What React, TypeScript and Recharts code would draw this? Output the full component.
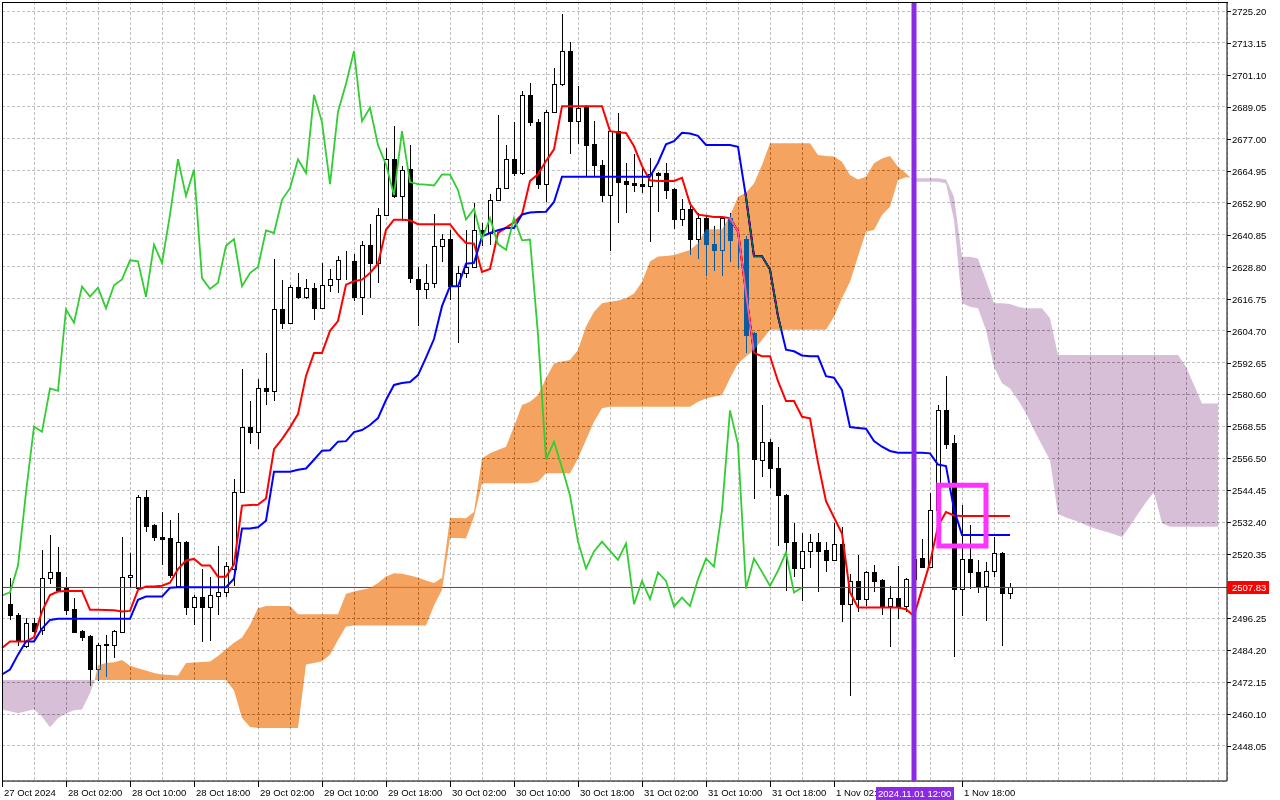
import { Area, Bar, CartesianGrid, ComposedChart, Line, ReferenceArea, ReferenceLine, XAxis, YAxis } from 'recharts'

// XAUUSD H1, bar 0 = first full candle at the left edge (bar -1 is cut by the frame)
const opens = [
  2501.5, 2497.5, 2485.6, 2494.4, 2491.9, 2511.3, 2513.8, 2507.5, 2499.7, 2491.3,
  2489.4, 2476.9, 2486.3, 2486.0, 2491.0, 2511.7, 2507.5, 2541.9, 2531.3, 2526.7,
  2526.3, 2508.5, 2524.9, 2500.4, 2504.2, 2500.4, 2504.5, 2506.0, 2514.8, 2543.7,
  2568.5, 2566.5, 2582.9, 2582.0, 2612.7, 2607.7, 2621.3, 2617.5, 2620.9, 2613.1,
  2621.8, 2624.0, 2631.0, 2630.8, 2617.4, 2637.1, 2630.2, 2648.4, 2669.3, 2655.5,
  2665.6, 2624.2, 2620.4, 2622.7, 2636.7, 2639.2, 2621.4, 2626.4, 2628.7, 2642.5,
  2641.5, 2654.0, 2658.4, 2669.3, 2664.0, 2693.6, 2683.5, 2659.9, 2687.0, 2697.6,
  2710.1, 2683.6, 2689.1, 2674.9, 2667.3, 2655.8, 2679.9, 2661.0, 2660.2, 2659.8,
  2659.4, 2664.0, 2664.0, 2657.9, 2646.6, 2650.5, 2639.2, 2647.1, 2637.3, 2635.2,
  2647.1, 2638.7, 2639.2, 2603.6, 2555.9, 2562.8, 2553.0, 2542.6, 2525.1, 2515.0,
  2521.4, 2525.1, 2521.9, 2518.2, 2524.4, 2501.5, 2510.3, 2503.4, 2513.5, 2510.6,
  2500.7, 2504.0, 2500.8, 2510.9, 2518.9, 2515.7, 2536.9, 2574.6, 2562.2, 2507.4,
  2518.7, 2513.8, 2508.4, 2514.2, 2521.0, 2505.9,
]
const highs = [
  2511.3, 2498.2, 2496.5, 2496.3, 2521.9, 2527.6, 2523.2, 2511.9, 2503.8, 2491.8,
  2489.9, 2486.8, 2490.0, 2491.8, 2527.0, 2520.7, 2542.6, 2544.5, 2531.9, 2536.3,
  2533.2, 2535.8, 2525.5, 2505.0, 2514.8, 2511.7, 2523.6, 2517.3, 2548.7, 2590.1,
  2578.1, 2586.6, 2596.2, 2631.8, 2623.7, 2621.8, 2626.5, 2624.3, 2622.8, 2630.1,
  2627.8, 2633.0, 2634.6, 2633.6, 2638.6, 2645.0, 2650.9, 2673.5, 2681.9, 2666.6,
  2674.7, 2628.7, 2629.8, 2648.8, 2641.0, 2642.7, 2628.9, 2642.7, 2652.8, 2645.3,
  2656.2, 2686.0, 2674.7, 2683.5, 2695.2, 2698.1, 2684.3, 2688.0, 2703.7, 2724.2,
  2713.5, 2697.1, 2689.6, 2683.9, 2669.2, 2680.4, 2686.8, 2667.7, 2671.1, 2666.1,
  2669.9, 2664.5, 2667.7, 2658.6, 2654.4, 2653.0, 2649.2, 2648.4, 2644.2, 2647.6,
  2649.0, 2639.6, 2640.5, 2604.0, 2576.8, 2563.9, 2560.9, 2543.0, 2532.0, 2528.5,
  2527.9, 2528.5, 2524.8, 2532.0, 2530.8, 2512.9, 2520.0, 2513.9, 2516.2, 2511.0,
  2508.2, 2515.9, 2511.3, 2521.0, 2526.0, 2543.6, 2576.5, 2587.5, 2565.5, 2538.8,
  2531.3, 2518.1, 2517.6, 2527.0, 2521.3, 2509.7,
]
const lows = [
  2495.6, 2485.6, 2485.0, 2490.0, 2490.0, 2509.0, 2506.3, 2497.5, 2490.6, 2487.5,
  2470.6, 2472.5, 2474.0, 2481.3, 2490.6, 2507.5, 2506.9, 2528.8, 2525.4, 2516.3,
  2511.3, 2507.9, 2497.3, 2493.5, 2487.2, 2487.8, 2497.3, 2504.2, 2508.5, 2543.3,
  2561.9, 2560.0, 2576.6, 2578.2, 2605.2, 2607.2, 2616.5, 2616.5, 2608.7, 2612.7,
  2619.3, 2619.0, 2623.9, 2615.8, 2610.7, 2617.0, 2622.7, 2647.8, 2654.7, 2645.9,
  2622.7, 2606.6, 2616.6, 2620.8, 2630.4, 2616.4, 2600.1, 2624.5, 2628.3, 2636.5,
  2636.9, 2653.6, 2658.0, 2662.8, 2663.2, 2682.0, 2657.9, 2653.3, 2686.6, 2697.1,
  2671.1, 2674.9, 2662.9, 2662.9, 2653.3, 2634.7, 2645.4, 2648.9, 2656.9, 2656.7,
  2638.1, 2649.4, 2654.2, 2642.9, 2644.1, 2633.3, 2631.7, 2625.2, 2627.0, 2625.2,
  2630.4, 2628.3, 2596.3, 2541.1, 2549.6, 2545.2, 2523.5, 2506.6, 2511.6, 2502.8,
  2515.3, 2506.2, 2513.7, 2518.0, 2494.9, 2467.0, 2498.4, 2501.0, 2506.0, 2497.5,
  2485.2, 2495.8, 2498.5, 2508.0, 2515.3, 2515.3, 2535.0, 2560.0, 2481.5, 2497.1,
  2507.2, 2505.9, 2495.0, 2511.8, 2485.9, 2503.4,
]
const closes = [
  2497.3, 2487.5, 2494.4, 2491.5, 2511.3, 2513.8, 2506.9, 2499.4, 2491.0, 2489.1,
  2476.9, 2486.0, 2486.5, 2491.3, 2511.7, 2512.5, 2541.9, 2530.9, 2526.7, 2526.1,
  2512.5, 2524.9, 2500.4, 2504.2, 2500.4, 2504.8, 2506.0, 2516.1, 2543.7, 2568.5,
  2566.5, 2582.9, 2582.0, 2612.7, 2607.7, 2621.3, 2617.5, 2620.9, 2613.1, 2621.8,
  2624.0, 2631.2, 2630.8, 2617.4, 2637.1, 2630.2, 2648.4, 2669.3, 2655.5, 2665.3,
  2624.5, 2620.4, 2622.7, 2636.7, 2639.2, 2621.4, 2626.4, 2628.7, 2642.5, 2641.5,
  2654.0, 2658.4, 2669.3, 2664.1, 2693.6, 2683.3, 2659.9, 2687.2, 2697.8, 2710.1,
  2683.6, 2688.7, 2674.6, 2667.3, 2655.8, 2679.9, 2660.7, 2659.9, 2659.7, 2659.4,
  2663.6, 2663.5, 2657.7, 2646.6, 2650.6, 2639.2, 2647.1, 2637.3, 2635.2, 2647.1,
  2638.7, 2639.0, 2603.2, 2556.1, 2562.8, 2553.0, 2542.6, 2525.1, 2515.0, 2521.4,
  2525.1, 2521.6, 2518.2, 2524.4, 2501.5, 2510.3, 2503.4, 2513.5, 2510.3, 2500.7,
  2504.0, 2500.8, 2510.9, 2518.7, 2515.7, 2536.9, 2574.6, 2561.8, 2507.4, 2518.7,
  2513.7, 2508.4, 2514.2, 2521.0, 2505.9, 2507.83,
]

// Tenkan-sen and Kijun-sen, bars -1..125
const tenkan = [
  2485.0, 2487.5, 2487.5, 2487.5, 2489.0, 2498.8, 2505.0, 2506.3, 2506.5, 2506.5,
  2506.5, 2499.4, 2499.4, 2499.3, 2499.2, 2498.8, 2499.0, 2506.9, 2508.2, 2508.2,
  2508.5, 2509.6, 2514.8, 2518.0, 2518.6, 2516.1, 2516.1, 2511.9, 2511.9, 2516.5,
  2538.7, 2538.9, 2539.0, 2541.4, 2560.0, 2563.8, 2568.2, 2573.2, 2587.6, 2596.2,
  2596.2, 2604.6, 2608.3, 2622.0, 2623.3, 2623.9, 2626.4, 2629.9, 2642.7, 2646.5,
  2646.5, 2646.3, 2644.8, 2644.8, 2644.8, 2644.8, 2644.8, 2640.9, 2637.7, 2637.5,
  2626.8, 2627.9, 2641.5, 2643.5, 2645.5, 2648.5, 2661.1, 2663.6, 2668.6, 2673.0,
  2689.3, 2689.3, 2689.3, 2689.3, 2689.3, 2689.3, 2679.9, 2679.5, 2679.2, 2674.2,
  2666.7, 2661.4, 2661.1, 2661.1, 2661.1, 2662.3, 2652.5, 2648.4, 2648.0, 2647.5,
  2647.5, 2647.1, 2642.1, 2618.9, 2596.3, 2595.0, 2595.0, 2585.6, 2578.1, 2578.1,
  2572.2, 2571.6, 2554.9, 2540.4, 2534.2, 2528.2, 2506.0, 2500.3, 2500.3, 2500.3,
  2500.3, 2500.3, 2500.3, 2499.6, 2497.1, 2507.2, 2517.2, 2531.0, 2536.3, 2535.0,
  2534.8, 2534.8, 2534.8, 2534.8, 2534.8, 2534.8, 2534.8,
]
const kijun = [
  2475.0, 2476.9, 2482.5, 2487.5, 2487.5, 2492.3, 2495.6, 2496.0, 2496.0, 2496.0,
  2496.0, 2496.0, 2496.0, 2496.0, 2496.0, 2496.0, 2496.0, 2503.2, 2504.4, 2504.4,
  2504.4, 2507.7, 2507.9, 2507.9, 2507.9, 2507.9, 2507.9, 2507.9, 2507.9, 2511.1,
  2530.1, 2530.1, 2530.5, 2533.0, 2551.5, 2551.5, 2551.5, 2552.2, 2552.7, 2556.0,
  2559.4, 2559.6, 2562.8, 2563.0, 2566.4, 2567.2, 2569.1, 2571.7, 2578.5, 2584.2,
  2584.9, 2585.3, 2587.9, 2594.5, 2601.5, 2613.9, 2621.4, 2621.4, 2629.9, 2630.2,
  2640.2, 2641.5, 2642.5, 2643.4, 2643.4, 2648.5, 2649.2, 2649.4, 2649.5, 2653.2,
  2662.7, 2662.7, 2662.7, 2662.7, 2662.7, 2662.7, 2662.7, 2662.7, 2662.7, 2662.7,
  2662.7, 2662.7, 2668.0, 2674.9, 2676.1, 2679.3, 2679.0, 2678.1, 2674.7, 2674.7,
  2674.7, 2674.7, 2674.0, 2655.0, 2632.7, 2632.7, 2627.7, 2610.1, 2597.5, 2596.9,
  2595.3, 2595.0, 2595.0, 2587.5, 2586.9, 2582.2, 2568.3, 2568.0, 2567.7, 2563.0,
  2560.9, 2559.3, 2558.6, 2558.6, 2558.6, 2558.6, 2558.4, 2554.2, 2553.6, 2537.3,
  2527.6, 2527.6, 2527.6, 2527.6, 2527.6, 2527.6, 2527.6,
]
// Chikou span, bars -1..99
const chikou = [
  2504.8, 2506.0, 2516.1, 2543.7, 2568.5, 2566.5, 2582.9, 2582.0, 2612.7, 2607.7,
  2621.3, 2617.5, 2620.9, 2613.1, 2621.8, 2624.0, 2631.2, 2630.8, 2617.4, 2637.1,
  2630.2, 2648.4, 2669.3, 2655.5, 2665.3, 2624.5, 2620.4, 2622.7, 2636.7, 2639.2,
  2621.4, 2626.4, 2628.7, 2642.5, 2641.5, 2654.0, 2658.4, 2669.3, 2664.1, 2693.6,
  2683.3, 2659.9, 2687.2, 2697.8, 2710.1, 2683.6, 2688.7, 2674.6, 2667.3, 2655.8,
  2679.9, 2660.7, 2659.9, 2659.7, 2659.4, 2663.6, 2663.5, 2657.7, 2646.6, 2650.6,
  2639.2, 2647.1, 2637.3, 2635.2, 2647.1, 2638.7, 2639.0, 2603.2, 2556.1, 2562.8,
  2553.0, 2542.6, 2525.1, 2515.0, 2521.4, 2525.1, 2521.6, 2518.2, 2524.4, 2501.5,
  2510.3, 2503.4, 2513.5, 2510.3, 2500.7, 2504.0, 2500.8, 2510.9, 2518.7, 2515.7,
  2536.9, 2574.6, 2561.8, 2507.4, 2518.7, 2513.7, 2508.4, 2514.2, 2521.0, 2505.9,
  2507.8,
]
// Senkou span A and B, bars -1..151
const senkouA = [
  2461.8, 2461.2, 2460.4, 2461.2, 2461.8, 2459.1, 2455.1, 2458.5, 2460.4, 2461.5,
  2461.8, 2467.9, 2478.5, 2479.3, 2479.6, 2480.5, 2478.3, 2477.4, 2476.5, 2475.6,
  2475.0, 2474.8, 2474.6, 2479.3, 2479.5, 2479.7, 2479.9, 2482.0, 2484.5, 2487.0,
  2489.0, 2493.7, 2500.0, 2500.8, 2500.8, 2500.8, 2500.8, 2497.7, 2497.7, 2497.7,
  2497.7, 2497.7, 2497.7, 2505.5, 2506.3, 2507.0, 2507.6, 2509.5, 2512.0, 2513.2,
  2513.0, 2512.3, 2511.6, 2510.5, 2509.5, 2511.5, 2534.0, 2534.0, 2533.9, 2536.4,
  2556.5, 2558.4, 2559.7, 2560.9, 2568.5, 2576.6, 2577.9, 2580.4, 2586.7, 2592.3,
  2593.0, 2593.6, 2597.4, 2606.2, 2611.8, 2615.0, 2615.6, 2616.0, 2616.9, 2618.7,
  2623.1, 2630.7, 2632.6, 2632.8, 2633.2, 2634.1, 2635.1, 2637.6, 2642.9, 2642.9,
  2642.9, 2648.0, 2655.2, 2656.7, 2660.2, 2667.1, 2675.3, 2675.3, 2675.3, 2675.3,
  2675.3, 2675.3, 2670.9, 2670.5, 2670.3, 2668.4, 2663.4, 2661.7, 2662.7, 2667.8,
  2669.6, 2670.5, 2666.5, 2664.0, 2660.8, 2660.8, 2660.8, 2660.8, 2660.2, 2646.4,
  2615.0, 2613.7, 2613.1, 2604.9, 2591.1, 2584.8, 2582.9, 2578.5, 2573.5, 2567.2,
  2561.5, 2555.9, 2535.5, 2534.2, 2533.2, 2532.0, 2530.7, 2529.7, 2528.8, 2527.9,
  2526.9, 2531.0, 2535.5, 2540.0, 2543.8, 2532.0, 2530.7, 2530.7, 2530.7, 2530.7,
  2530.7, 2530.7, 2530.7,
]
const senkouB = [
  2472.9, 2472.9, 2472.9, 2472.9, 2472.9, 2472.9, 2472.9, 2472.9, 2472.9, 2472.9,
  2472.9, 2472.9, 2472.9, 2472.9, 2472.9, 2472.9, 2472.9, 2472.9, 2472.9, 2472.9,
  2472.9, 2472.9, 2472.9, 2472.9, 2472.9, 2472.9, 2472.9, 2472.9, 2472.9, 2469.0,
  2458.6, 2455.2, 2454.8, 2454.8, 2454.8, 2454.8, 2454.8, 2454.8, 2478.8, 2479.3,
  2480.0, 2482.5, 2488.0, 2493.1, 2493.5, 2493.5, 2493.5, 2493.5, 2493.5, 2493.5,
  2493.5, 2493.5, 2493.5, 2493.5, 2501.0, 2507.0, 2526.5, 2526.5, 2526.3, 2534.5,
  2547.1, 2547.1, 2547.1, 2547.1, 2547.1, 2547.1, 2547.1, 2547.7, 2550.9, 2550.9,
  2550.9, 2550.9, 2556.5, 2563.4, 2570.3, 2575.4, 2576.0, 2576.0, 2576.0, 2576.0,
  2576.0, 2576.0, 2576.0, 2576.0, 2576.0, 2576.0, 2576.0, 2577.9, 2579.1, 2579.8,
  2580.4, 2586.7, 2592.3, 2594.9, 2597.4, 2601.1, 2605.0, 2605.0, 2605.0, 2605.0,
  2605.0, 2605.0, 2605.0, 2605.0, 2609.9, 2616.9, 2623.1, 2632.6, 2642.0, 2642.6,
  2648.3, 2651.4, 2661.5, 2662.5, 2662.1, 2662.1, 2662.1, 2662.1, 2661.7, 2655.2,
  2632.5, 2632.5, 2631.9, 2623.7, 2615.0, 2615.0, 2614.7, 2613.7, 2613.1, 2613.1,
  2613.1, 2609.3, 2595.5, 2595.5, 2595.5, 2595.5, 2595.5, 2595.5, 2595.5, 2595.5,
  2595.5, 2595.5, 2595.5, 2595.5, 2595.5, 2595.5, 2595.5, 2595.5, 2591.1, 2584.2,
  2577.2, 2577.2, 2577.2,
]
// where span A crosses span B (bar, price)
const cloudCrossBars = [10.6, 112.55]
const cloudCrossPrices = [2472.9, 2662.3]

const priceTicks = [
  2448.05, 2460.1, 2472.15, 2484.2, 2496.25, 2520.35, 2532.4, 2544.45, 2556.5, 2568.55, 2580.6, 2592.65,
  2604.7, 2616.75, 2628.8, 2640.85, 2652.9, 2664.95, 2677.0, 2689.05, 2701.1, 2713.15, 2725.2,
]
const lastPrice = 2507.83

const timeTickBars = [-1, 7, 15, 23, 31, 39, 47, 55, 63, 71, 79, 87, 95, 103, 119]
const timeTickLabels = [
  '27 Oct 2024', '28 Oct 02:00', '28 Oct 10:00', '28 Oct 18:00', '29 Oct 02:00', '29 Oct 10:00',
  '29 Oct 18:00', '30 Oct 02:00', '30 Oct 10:00', '30 Oct 18:00', '31 Oct 02:00', '31 Oct 10:00',
  '31 Oct 18:00', '1 Nov 02:00', '1 Nov 18:00',
]

const markerBar = 113
const markerLabel = '2024.11.01 12:00'
const boxBars = [116.1, 122]
const boxPrices = [2523.45, 2546.4]

const X_DOMAIN: [number, number] = [-1, 152.125]
const Y_DOMAIN: [number, number] = [2434.852, 2728.594]
const FONT = '"Liberation Sans", Arial, sans-serif'
const MARKER_COLOR = '#8A2BE2'

const gridBars = Array.from({ length: 38 }, (_, k) => 3 + 4 * k)

const candles = closes.map((close, k) => ({
  bar: k,
  open: opens[k],
  high: highs[k],
  low: lows[k],
  close,
  span: [lows[k], highs[k]],
}))
const tenkanData = tenkan.map((v, k) => ({ bar: k - 1, v }))
const kijunData = kijun.map((v, k) => ({ bar: k - 1, v }))
const chikouData = chikou.map((v, k) => ({ bar: k - 1, v }))

const cloud = senkouA.map((a, k) => ({ bar: k - 1, a, b: senkouB[k] }))
const [crossL, crossR] = cloudCrossBars
const crossPoint = (n: number) => ({ bar: cloudCrossBars[n], band: [cloudCrossPrices[n], cloudCrossPrices[n]] })
const bullCloud = [
  crossPoint(0),
  ...cloud.filter((p) => p.bar > crossL && p.bar < crossR).map((p) => ({ bar: p.bar, band: [p.b, p.a] })),
  crossPoint(1),
]
const bearCloudLeft = [...cloud.filter((p) => p.bar < crossL).map((p) => ({ bar: p.bar, band: [p.a, p.b] })), crossPoint(0)]
const bearCloudRight = [crossPoint(1), ...cloud.filter((p) => p.bar > crossR).map((p) => ({ bar: p.bar, band: [p.a, p.b] }))]

type CandleProps = {
  x?: number
  y?: number
  width?: number
  height?: number
  payload?: { open: number; high: number; low: number; close: number }
}

function Candle({ x = 0, y = 0, width = 0, height = 0, payload }: CandleProps) {
  if (!payload) return null
  const { open, high, low, close } = payload
  const top = height < 0 ? y + height : y
  const span = Math.abs(height)
  const ppu = high > low ? span / (high - low) : 0
  const yOf = (p: number) => top + (high - p) * ppu
  const cx = Math.round(x + width / 2)
  const bodyTop = Math.round(yOf(Math.max(open, close)))
  const bodyBottom = Math.round(yOf(Math.min(open, close)))
  return (
    <g>
      <line x1={cx + 0.5} x2={cx + 0.5} y1={Math.round(top)} y2={Math.round(top + span)} stroke="#000" />
      <rect
        x={cx - 1.5}
        y={bodyTop + 0.5}
        width={4}
        height={Math.max(bodyBottom - bodyTop, 0)}
        fill={close >= open ? '#fff' : '#000'}
        stroke="#000"
      />
    </g>
  )
}

type TickProps = { x?: number; y?: number; payload?: { value: number } }

function TimeTick({ x = 0, y = 0, payload }: TickProps) {
  const bar = payload?.value
  if (bar === markerBar) {
    return (
      <g>
        <rect x={x - 38} y={y + 6} width={78} height={13} fill={MARKER_COLOR} />
        <text x={x - 36} y={y + 16} fill="#fff" fontSize={9.5} fontFamily={FONT}>
          {markerLabel}
        </text>
      </g>
    )
  }
  const k = timeTickBars.indexOf(bar ?? NaN)
  if (k < 0) return <g />
  const px = Math.round(x) + 0.5
  return (
    <g>
      <line x1={px} x2={px} y1={y} y2={y + 6} stroke="#000" />
      <text x={px + 1.5} y={y + 15} fill="#000" fontSize={9.5} fontFamily={FONT}>
        {timeTickLabels[k]}
      </text>
    </g>
  )
}

function PriceTick({ x = 0, y = 0, payload }: TickProps) {
  const value = payload?.value ?? 0
  const py = Math.round(y)
  if (value === lastPrice) {
    return (
      <g>
        <rect x={x} y={py - 6} width={42} height={13} fill="#FF0000" />
        <text x={x + 5} y={py + 4} fill="#fff" fontSize={9.5} fontFamily={FONT}>
          {value.toFixed(2)}
        </text>
      </g>
    )
  }
  return (
    <g>
      <line x1={x} x2={x + 4} y1={py + 0.5} y2={py + 0.5} stroke="#000" />
      <text x={x + 5} y={py + 4} fill="#000" fontSize={9.5} fontFamily={FONT}>
        {value.toFixed(2)}
      </text>
    </g>
  )
}

export default function App() {
  return (
    <div style={{ position: 'absolute', left: 0, top: 0, width: 1280, height: 800, background: '#fff' }}>
      <style>{`
        .xor-cloud { mix-blend-mode: difference; }
        .recharts-cartesian-grid line { shape-rendering: crispEdges; }
      `}</style>
      <ComposedChart width={1280} height={800} data={candles} margin={{ top: 2, right: 0, bottom: 0, left: 2 }}>
        <XAxis
          dataKey="bar"
          type="number"
          domain={X_DOMAIN}
          ticks={[-1, ...gridBars, markerBar]}
          interval={0}
          height={19}
          tickSize={0}
          tickMargin={0}
          tickLine={false}
          axisLine={{ stroke: '#000' }}
          tick={<TimeTick />}
        />
        <YAxis
          orientation="right"
          type="number"
          domain={Y_DOMAIN}
          ticks={[...priceTicks, lastPrice]}
          interval={0}
          width={53}
          tickSize={0}
          tickMargin={0}
          tickLine={false}
          axisLine={{ stroke: '#000' }}
          tick={<PriceTick />}
        />
        <CartesianGrid stroke="#C0C0C0" strokeDasharray="3 2" fill="#fff" fillOpacity={1} />

        <Bar dataKey="span" barSize={5} shape={<Candle />} isAnimationActive={false} zIndex={300} />
        <ReferenceLine y={lastPrice} stroke="#FF0000" strokeWidth={1} zIndex={350} />
        <Line data={tenkanData} dataKey="v" type="linear" stroke="#FF0000" strokeWidth={2} dot={false} activeDot={false} isAnimationActive={false} zIndex={400} />
        <Line data={kijunData} dataKey="v" type="linear" stroke="#0000FF" strokeWidth={2} dot={false} activeDot={false} isAnimationActive={false} zIndex={400} />

        <Area data={bearCloudLeft} dataKey="band" type="linear" className="xor-cloud" fill="#274027" fillOpacity={1} stroke="none" isAnimationActive={false} zIndex={450} />
        <Area data={bullCloud} dataKey="band" type="linear" className="xor-cloud" fill="#0B5B9F" fillOpacity={1} stroke="none" isAnimationActive={false} zIndex={450} />
        <Area data={bearCloudRight} dataKey="band" type="linear" className="xor-cloud" fill="#274027" fillOpacity={1} stroke="none" isAnimationActive={false} zIndex={450} />

        <Line data={chikouData} dataKey="v" type="linear" stroke="#32CD32" strokeWidth={1.8} dot={false} activeDot={false} isAnimationActive={false} zIndex={460} />

        <ReferenceLine x={markerBar} stroke={MARKER_COLOR} strokeWidth={5} zIndex={600} />
        <ReferenceArea x1={boxBars[0]} x2={boxBars[1]} y1={boxPrices[0]} y2={boxPrices[1]} fill="none" stroke="#FF33FF" strokeWidth={5} zIndex={600} />
      </ComposedChart>
      <div
        style={{
          position: 'absolute',
          left: 2,
          top: 2,
          width: 1225,
          height: 779,
          borderLeft: '1px solid #000',
          borderTop: '1px solid #000',
          pointerEvents: 'none',
        }}
      />
    </div>
  )
}
